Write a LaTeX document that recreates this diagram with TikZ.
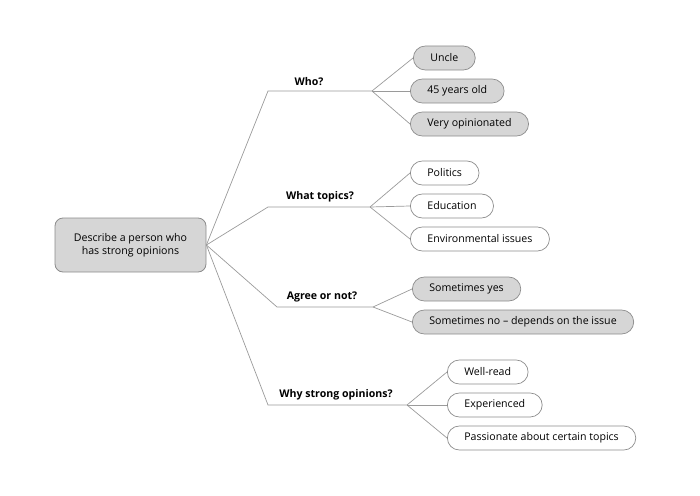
\documentclass[tikz,border=0pt]{standalone}
\usepackage{fontspec}
\setmainfont{Open Sans}
\definecolor{linegray}{HTML}{9A9A9A}
\definecolor{boxgray}{HTML}{D6D6D6}
\definecolor{edgegray}{HTML}{8C8C8C}
\begin{document}
\begin{tikzpicture}[x=1pt,y=-1pt,
    font=\fontsize{10.6}{12.5}\selectfont,
    branch/.style={draw=linegray, line width=0.7pt},
    rootbox/.style={draw=edgegray, fill=boxgray, line width=0.8pt, rounded corners=8pt,
      minimum width=151pt, minimum height=54pt, align=center},
    leaf/.style={draw=edgegray, line width=0.7pt, rounded corners=12pt, minimum height=24pt,
      inner xsep=17pt, anchor=west},
    leafgray/.style={leaf, fill=boxgray},
    leafwhite/.style={leaf, fill=white},
    topic/.style={font=\fontsize{10.6}{12.5}\selectfont\bfseries, above, inner sep=3pt}]
  \useasboundingbox (0,0) rectangle (700,495);
  % Central node
  \node[rootbox] (root) at (130.5,245) {Describe a person who\\has strong opinions};
  % Elbows and hubs
  \coordinate (whoK) at (268,91);   \coordinate (whoH) at (372,91);
  \coordinate (topK) at (268,207);  \coordinate (topH) at (370,207);
  \coordinate (agrK) at (277,307);  \coordinate (agrH) at (373,307);
  \coordinate (whyK) at (268,405);  \coordinate (whyH) at (407,405);
  % Branch labels
  \node[topic] (whoL) at (309,89) {Who?};
  \node[topic] (topL) at (320,205) {What topics?};
  \node[topic] (agrL) at (322,305) {Agree or not?};
  \node[topic] (whyL) at (336,403) {Why strong opinions?};
  % Leaves
  \node[leafgray] (uncle) at (413,58) {Uncle};
  \node[leafgray] (age) at (410,91) {45 years old};
  \node[leafgray] (opin) at (410,124) {Very opinionated};
  \node[leafwhite] (pol) at (410,173) {Politics};
  \node[leafwhite] (edu) at (410,206) {Education};
  \node[leafwhite] (env) at (410,239) {Environmental issues};
  \node[leafgray] (yes) at (412,289) {Sometimes yes};
  \node[leafgray] (no) at (412,322) {Sometimes no – depends on the issue};
  \node[leafwhite] (read) at (447,372) {Well-read};
  \node[leafwhite] (exp) at (447,405) {Experienced};
  \node[leafwhite] (pass) at (447,438) {Passionate about certain topics};
  % Connectors
  \draw[branch] (root.east) -- (whoK) -- (whoH);
  \draw[branch] (root.east) -- (topK) -- (topH);
  \draw[branch] (root.east) -- (agrK) -- (agrH);
  \draw[branch] (root.east) -- (whyK) -- (whyH);
  \draw[branch] (whoH) -- (uncle.west);
  \draw[branch] (whoH) -- (age.west);
  \draw[branch] (whoH) -- (opin.west);
  \draw[branch] (topH) -- (pol.west);
  \draw[branch] (topH) -- (edu.west);
  \draw[branch] (topH) -- (env.west);
  \draw[branch] (agrH) -- (yes.west);
  \draw[branch] (agrH) -- (no.west);
  \draw[branch] (whyH) -- (read.west);
  \draw[branch] (whyH) -- (exp.west);
  \draw[branch] (whyH) -- (pass.west);
\end{tikzpicture}
\end{document}
